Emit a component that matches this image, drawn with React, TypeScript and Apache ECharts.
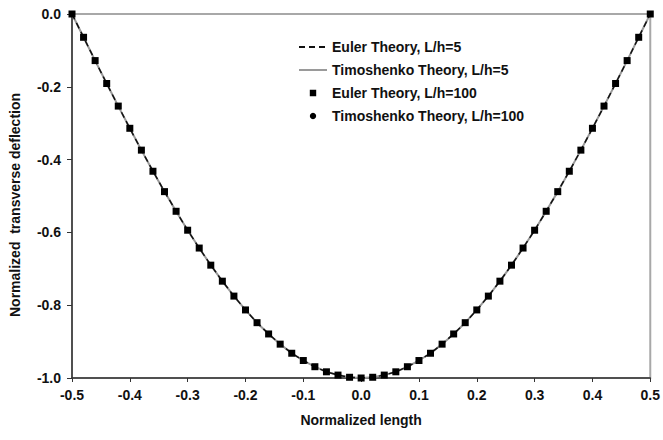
import React, { useEffect, useRef } from "react";
import * as echarts from "echarts";

const xValues = [
  -0.5, -0.48, -0.46, -0.44, -0.42, -0.4, -0.38, -0.36, -0.34, -0.32, -0.3,
  -0.28, -0.26, -0.24, -0.22, -0.2, -0.18, -0.16, -0.14, -0.12, -0.1, -0.08,
  -0.06, -0.04, -0.02, 0.0, 0.02, 0.04, 0.06, 0.08, 0.1, 0.12, 0.14, 0.16,
  0.18, 0.2, 0.22, 0.24, 0.26, 0.28, 0.3, 0.32, 0.34, 0.36, 0.38, 0.4, 0.42,
  0.44, 0.46, 0.48, 0.5,
];

const eulerL5 = [
  0.0, -0.064, -0.128, -0.191, -0.253, -0.314, -0.374, -0.432, -0.488, -0.542,
  -0.594, -0.643, -0.69, -0.734, -0.775, -0.813, -0.848, -0.879, -0.907,
  -0.932, -0.952, -0.969, -0.983, -0.992, -0.998, -1.0, -0.998, -0.992,
  -0.983, -0.969, -0.952, -0.932, -0.907, -0.879, -0.848, -0.813, -0.775,
  -0.734, -0.69, -0.643, -0.594, -0.542, -0.488, -0.432, -0.374, -0.314,
  -0.253, -0.191, -0.128, -0.064, 0.0,
];
const timoL5 = [
  0.0, -0.064, -0.128, -0.191, -0.253, -0.314, -0.374, -0.432, -0.488, -0.542,
  -0.594, -0.643, -0.69, -0.734, -0.775, -0.813, -0.848, -0.879, -0.907,
  -0.932, -0.952, -0.969, -0.983, -0.992, -0.998, -1.0, -0.998, -0.992,
  -0.983, -0.969, -0.952, -0.932, -0.907, -0.879, -0.848, -0.813, -0.775,
  -0.734, -0.69, -0.643, -0.594, -0.542, -0.488, -0.432, -0.374, -0.314,
  -0.253, -0.191, -0.128, -0.064, 0.0,
];
const eulerL100 = [...eulerL5];
const timoL100 = [...timoL5];

const seriesNames = [
  "Euler Theory, L/h=5",
  "Timoshenko Theory, L/h=5",
  "Euler Theory, L/h=100",
  "Timoshenko Theory, L/h=100",
];

const pair = (ys: number[]) => xValues.map((x, i) => [x, ys[i]]);

const FONT = "'Liberation Sans', Arial, sans-serif";
const txt = { fontFamily: FONT, fontWeight: "bold", fontSize: 14, color: "#111" };

export default function App() {
  const ref = useRef<HTMLDivElement>(null);
  useEffect(() => {
    document.body.style.margin = "0";
    if (!ref.current) return;
    const chart = echarts.init(ref.current, null, { renderer: "svg" });
    chart.setOption({
      animation: false,
      backgroundColor: "#ffffff",
      grid: {
        left: 62,
        right: 12,
        top: 14,
        bottom: 62,
        show: true,
        borderColor: "#a8a8a8",
        borderWidth: 2,
      },
      legend: {
        orient: "vertical",
        left: 293,
        top: 35,
        itemGap: 9,
        itemWidth: 28,
        itemHeight: 8,
        textStyle: { ...txt },
        data: [
          { name: seriesNames[0], itemStyle: { opacity: 0 } },
          { name: seriesNames[1], itemStyle: { opacity: 0 } },
          { name: seriesNames[2] },
          { name: seriesNames[3] },
        ],
      },
      xAxis: {
        type: "value",
        min: -0.5,
        max: 0.5,
        interval: 0.1,
        name: "Normalized length",
        nameLocation: "middle",
        nameGap: 35,
        nameTextStyle: { ...txt },
        axisLine: { onZero: false, lineStyle: { color: "#333", width: 1.5 } },
        axisTick: { show: true, length: 4, lineStyle: { color: "#333" } },
        axisLabel: {
          ...txt,
          margin: 10,
          formatter: (v: number) => v.toFixed(1),
        },
        splitLine: { show: false },
      },
      yAxis: {
        type: "value",
        min: -1.0,
        max: 0.0,
        interval: 0.2,
        name: "Normalized  transverse deflection",
        nameLocation: "middle",
        nameGap: 50,
        nameTextStyle: { ...txt, padding: [0, 18, 0, 0] },
        axisLine: {
          show: true,
          onZero: false,
          lineStyle: { color: "#333", width: 1.5 },
        },
        axisTick: { show: true, length: 5, lineStyle: { color: "#333" } },
        axisLabel: {
          ...txt,
          margin: 11,
          formatter: (v: number) => v.toFixed(1),
        },
        splitLine: { show: false },
      },
      series: [
        {
          name: seriesNames[1],
          type: "line",
          data: pair(timoL5),
          symbol: "none",
          lineStyle: { color: "#9a9a9a", width: 2 },
          itemStyle: { color: "#9a9a9a" },
          z: 1,
        },
        {
          name: seriesNames[0],
          type: "line",
          data: pair(eulerL5),
          symbol: "none",
          lineStyle: { color: "#111", width: 1.5, type: [6, 4] },
          itemStyle: { color: "#111" },
          z: 2,
        },
        {
          name: seriesNames[2],
          type: "line",
          data: pair(eulerL100),
          symbol: "rect",
          symbolSize: 7,
          lineStyle: { width: 0, opacity: 0 },
          itemStyle: { color: "#000" },
          z: 3,
        },
        {
          name: seriesNames[3],
          type: "line",
          data: pair(timoL100),
          symbol: "circle",
          symbolSize: 5,
          lineStyle: { width: 0, opacity: 0 },
          itemStyle: { color: "#000" },
          z: 4,
        },
      ],
    });
    return () => chart.dispose();
  }, []);
  return <div ref={ref} style={{ width: 663, height: 440 }} />;
}
